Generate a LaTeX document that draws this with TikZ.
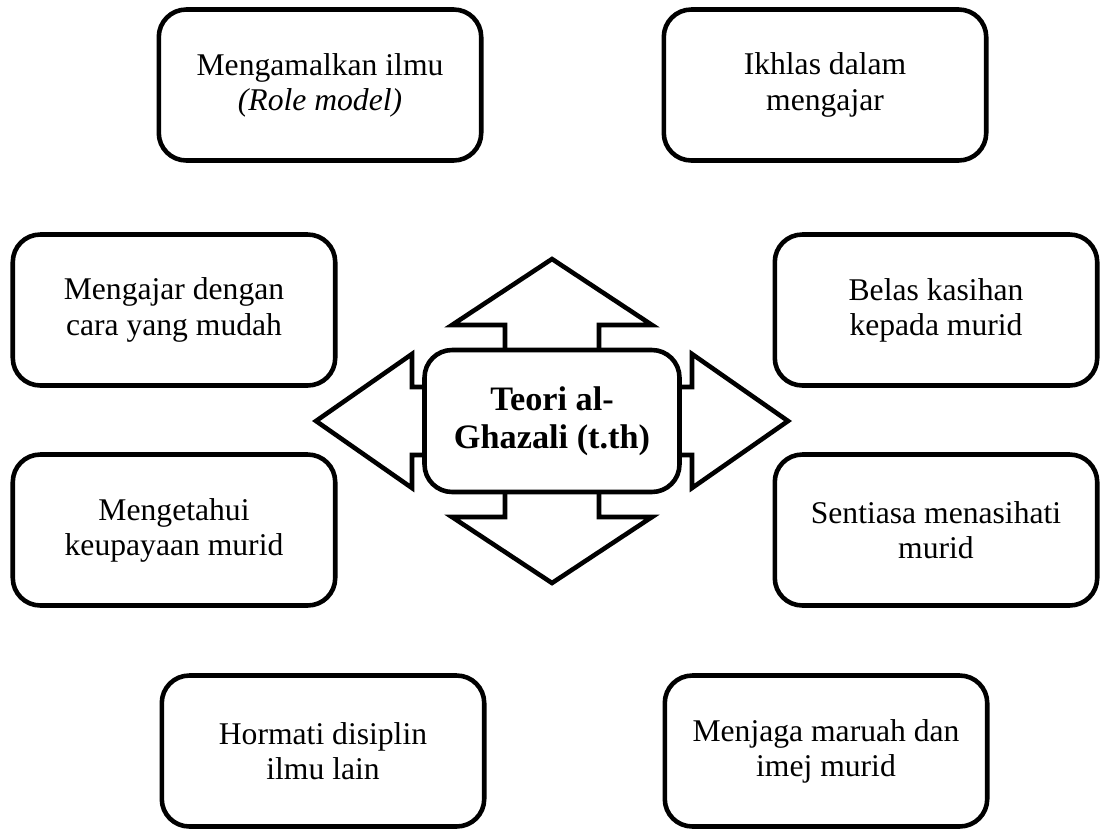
\documentclass[tikz,border=0pt]{standalone}
\usepackage{fontspec}
\setmainfont{Liberation Serif}
\usepackage{tikz}
\usetikzlibrary{positioning}

\begin{document}
\begin{tikzpicture}[x=0.02cm,y=-0.02cm,line width=2.6pt,
  font=\fontsize{18}{20}\selectfont,
  box/.style={draw,rounded corners=0.55cm,align=center,fill=white,
    minimum width=6.45cm,minimum height=3.02cm,inner sep=0pt}]
\useasboundingbox (0,0) rectangle (1104,832);
\coordinate (c) at (552,421);

\draw[fill=white,shift={(c)}] (0,-162) -- (100,-96) -- (47,-96) -- (47,-34) -- (140,-34) -- (140,-67)
  -- (236,0) -- (140,67) -- (140,34) -- (47,34) -- (47,96) -- (100,96) -- (0,162) -- (-100,96)
  -- (-47,96) -- (-47,34) -- (-140,34) -- (-140,67) -- (-236,0) -- (-140,-67) -- (-140,-34)
  -- (-47,-34) -- (-47,-96) -- (-100,-96) -- cycle;

\node[box,minimum width=5.1cm,minimum height=2.84cm,font=\fontsize{19.5}{21.5}\selectfont\bfseries] (teori) at (c) {Teori al-\\Ghazali (t.th)};

\node[box] (amal)    at (320,85)  {Mengamalkan ilmu\\\textit{(Role model)}};
\node[box] (ikhlas)  at (825,85)  {Ikhlas dalam\\mengajar};
\node[box] (mudah)   at (174,310) {Mengajar dengan\\cara yang mudah};
\node[box] (upaya)   at (174,530) {Mengetahui\\keupayaan murid};
\node[box] (kasih)   at (936,310) {Belas kasihan\\kepada murid};
\node[box] (nasihat) at (936,530) {Sentiasa menasihati\\murid};
\node[box] (hormat)  at (323,751) {Hormati disiplin\\ilmu lain};
\node[box] (maruah)  at (826,751) {Menjaga maruah dan\\imej murid};
\end{tikzpicture}
\end{document}
